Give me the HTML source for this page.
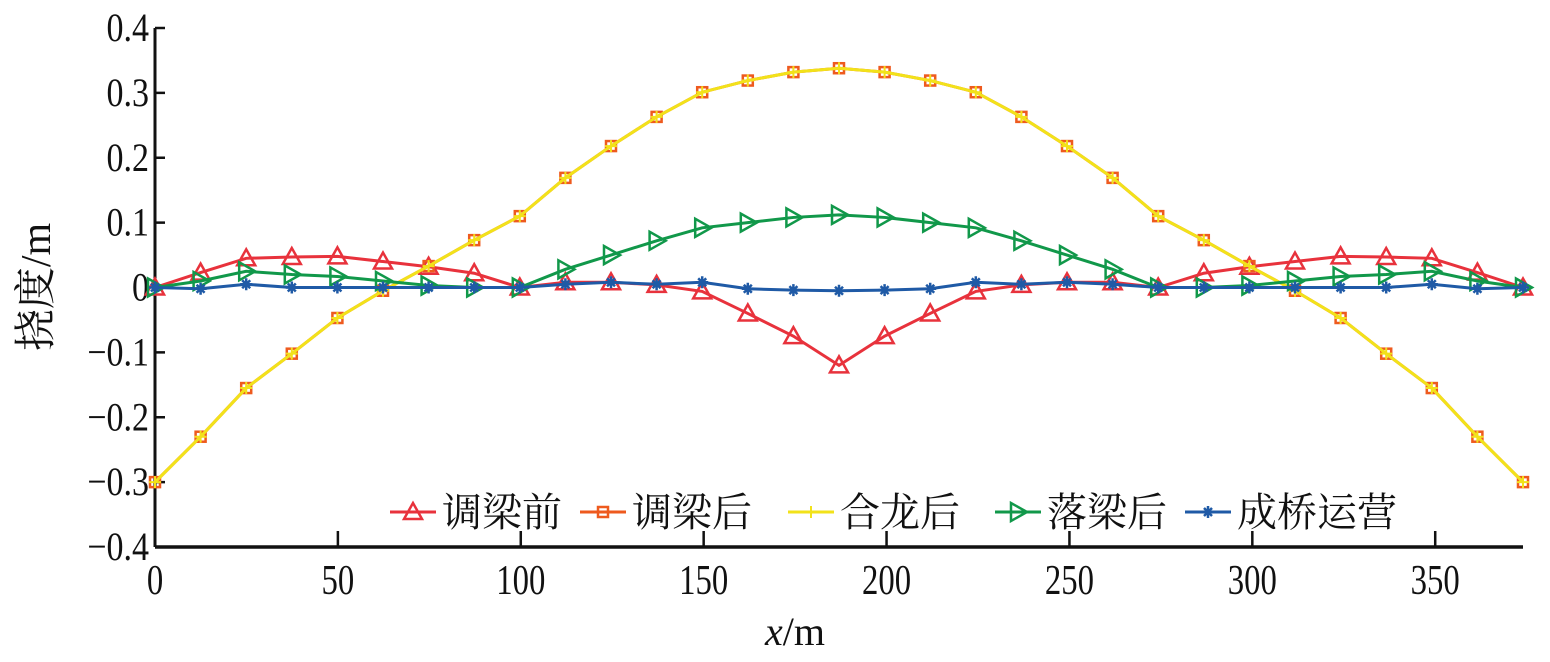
<!DOCTYPE html>
<html><head><meta charset="utf-8"><style>
body{margin:0;background:#fff;width:1550px;height:657px;overflow:hidden}
svg text{font-family:"Liberation Serif","Noto Serif CJK SC",serif;fill:#111}
</style></head><body>
<svg id="chart" width="1550" height="657" xmlns="http://www.w3.org/2000/svg"></svg>
<script>
const xMax = 374;
const xTicks = [0,50,100,150,200,250,300,350];
const yTicks = [0.4,0.3,0.2,0.1,0,-0.1,-0.2,-0.3,-0.4];
const yTickLabels = ["0.4","0.3","0.2","0.1","0","−0.1","−0.2","−0.3","−0.4"];
const seriesNames = ["调梁前","调梁后","合龙后","落梁后","成桥运营"];
const redVals = [0,0.023,0.045,0.047,0.048,0.04,0.032,0.022,0,0.008,0.008,0.004,-0.006,-0.04,-0.075,-0.12,-0.075,-0.04,-0.006,0.004,0.008,0.008,0,0.022,0.032,0.04,0.048,0.047,0.045,0.023,0];
const orangeVals = [-0.3,-0.23,-0.155,-0.102,-0.047,-0.005,0.033,0.073,0.11,0.169,0.218,0.263,0.301,0.319,0.332,0.338,0.332,0.319,0.301,0.263,0.218,0.169,0.11,0.073,0.033,-0.005,-0.047,-0.102,-0.155,-0.23,-0.3];
const yellowVals = [-0.3,-0.23,-0.155,-0.102,-0.047,-0.005,0.033,0.073,0.11,0.169,0.218,0.263,0.301,0.319,0.332,0.338,0.332,0.319,0.301,0.263,0.218,0.169,0.11,0.073,0.033,-0.005,-0.047,-0.102,-0.155,-0.23,-0.3];
const greenVals = [0,0.01,0.025,0.02,0.017,0.01,0.003,0,0,0.028,0.05,0.072,0.092,0.1,0.108,0.112,0.108,0.1,0.092,0.072,0.05,0.028,0,0,0.003,0.01,0.017,0.02,0.025,0.01,0];
const blueVals = [0,-0.002,0.005,0,0,0,0,0,0,0.005,0.008,0.005,0.008,-0.002,-0.004,-0.005,-0.004,-0.002,0.008,0.005,0.008,0.005,0,0,0,0,0,0,0.005,-0.002,0];

const svg = document.getElementById('chart');
const NS = 'http://www.w3.org/2000/svg';
const X0=155, X1=1523, Y0=547, Y1=28;
const sx = v => X0 + v/xMax*(X1-X0);
const sy = v => Y0 - (v+0.4)/0.8*(Y0-Y1);
function mk(t, a){const e=document.createElementNS(NS,t);for(const k in a)e.setAttribute(k,a[k]);svg.appendChild(e);return e;}

let e;
e = mk('line',{x1:X0,y1:Y1,x2:X0,y2:Y0,stroke:'#111','stroke-width':3});


e = mk('line',{x1:X0,y1:Y0,x2:X1,y2:Y0,stroke:'#111','stroke-width':3.5});


yTicks.forEach((v,i)=>{
  const t = mk('line',{x1:X0,y1:sy(v),x2:X0+10,y2:sy(v),stroke:'#111','stroke-width':2.5});
  
  
  const l = mk('text',{'text-anchor':'end','font-size':40,transform:`translate(${X0-6},${sy(v)+13}) scale(0.85,1)`});
  l.textContent = yTickLabels[i];
  
  
});
xTicks.forEach(v=>{
  const t = mk('line',{x1:sx(v),y1:Y0,x2:sx(v),y2:Y0-16,stroke:'#111','stroke-width':2.5});
  
  
  const l = mk('text',{'text-anchor':'middle','font-size':42,transform:`translate(${sx(v)},${594}) scale(0.78,1)`});
  l.textContent = v;
  
  
});
e = mk('text',{x:795,y:645,'text-anchor':'middle','font-size':40});
e.innerHTML = '<tspan font-style="italic">x</tspan>/m';


e = mk('text',{x:0,y:0,'text-anchor':'middle','font-size':42,transform:'translate(50,287) rotate(-90)'});
e.textContent = '挠度/m';



function marker(type,x,y,c){
  if(type==='tri') return mk('polygon',{points:`${x},${y-9} ${x-9},${y+7} ${x+9},${y+7}`,fill:'none',stroke:c,'stroke-width':2.5});
  if(type==='sq') return mk('rect',{x:x-5,y:y-5,width:10,height:10,fill:'none',stroke:c,'stroke-width':2.5});
  if(type==='plus') return mk('path',{d:`M${x-6},${y}H${x+6}M${x},${y-6}V${y+6}`,stroke:c,'stroke-width':2});
  if(type==='rtri') return mk('polygon',{points:`${x+9},${y} ${x-7},${y-9} ${x-7},${y+9}`,fill:'none',stroke:c,'stroke-width':2.5});
  if(type==='star') return mk('path',{d:`M${x-6},${y}H${x+6}M${x},${y-6}V${y+6}M${x-4},${y-4}L${x+4},${y+4}M${x-4},${y+4}L${x+4},${y-4}`,stroke:c,'stroke-width':2.5});
}
const series = [
  {vals:redVals,c:'#e8323c',m:'tri',n:'red'},
  {vals:orangeVals,c:'#ee5a1e',m:'sq',n:'orange'},
  {vals:yellowVals,c:'#f2e21a',m:'plus',n:'yellow'},
  {vals:greenVals,c:'#11984a',m:'rtri',n:'green'},
  {vals:blueVals,c:'#1f5aa6',m:'star',n:'blue'}
];
series.forEach((s,si)=>{
  const n = s.vals.length;
  const pts = s.vals.map((v,i)=>[sx(i*xMax/(n-1)),sy(v)]);
  const l = mk('polyline',{points:pts.map(p=>p.join(',')).join(' '),fill:'none',stroke:s.c,'stroke-width':3});
  
  
  pts.forEach(p=>{
    const m = marker(s.m,p[0],p[1],s.c);
    
    
  });
});
const legX = [390,580,788,995,1185];
series.forEach((s,i)=>{
  const x = legX[i], y = 512;
  const l = mk('line',{x1:x,y1:y,x2:x+46,y2:y,stroke:s.c,'stroke-width':3});
  
  
  const m = marker(s.m,x+23,y,s.c);
  
  
  const t = mk('text',{x:x+52,y:y+14,'font-size':40});
  t.textContent = seriesNames[i];
  
  
});
</script>
</body></html>
